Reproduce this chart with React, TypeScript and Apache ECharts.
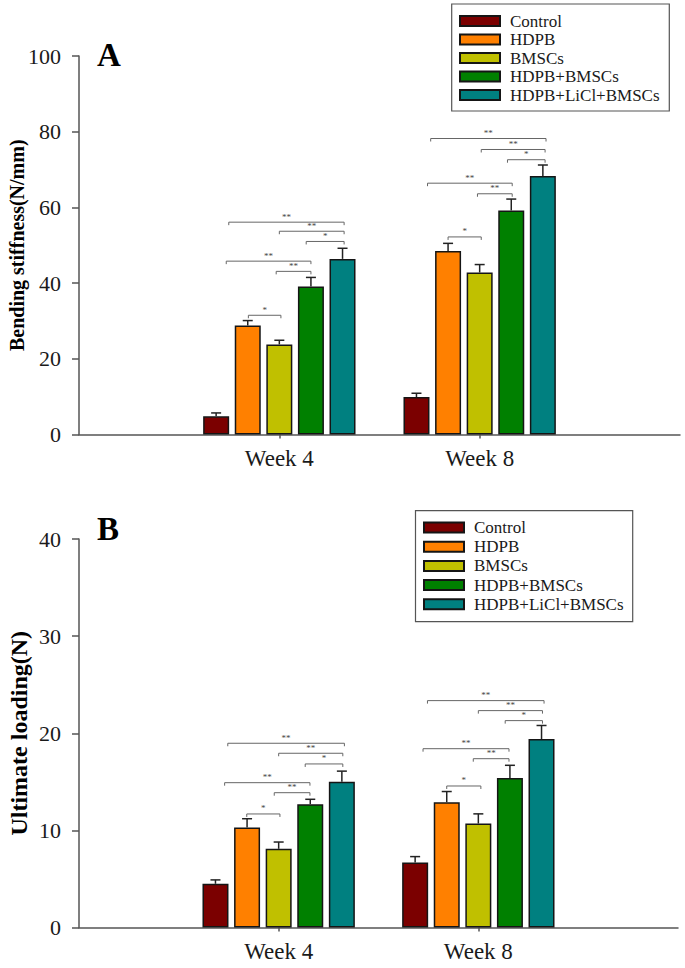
import React, { useEffect, useRef } from 'react';
import * as echarts from 'echarts';

const axisCategories = ['', 'Week 4', 'Week 8', ''];
const weekPositions = [1, 2];
const groupNames = ['Control', 'HDPB', 'BMSCs', 'HDPB+BMSCs', 'HDPB+LiCl+BMSCs'];
const groupColors = ['#7b0000', '#ff8000', '#c0c000', '#008000', '#008080'];

// Panel A: bending stiffness (N/mm), [Week 4, Week 8]
const stiffnessMean = [
  [4.8, 9.9],
  [28.8, 48.5],
  [23.8, 42.8],
  [39.1, 59.2],
  [46.4, 68.3],
];
const stiffnessErr = [
  [0.9, 1.0],
  [1.3, 2.0],
  [1.1, 2.1],
  [2.4, 3.0],
  [2.8, 2.9],
];
// Panel B: ultimate loading (N)
const loadingMean = [
  [4.5, 6.7],
  [10.3, 12.9],
  [8.1, 10.7],
  [12.7, 15.4],
  [15.0, 19.4],
];
const loadingErr = [
  [0.4, 0.6],
  [0.9, 1.1],
  [0.7, 1.0],
  [0.5, 1.3],
  [1.1, 1.4],
];

// significance brackets: [week position, from bar, to bar, height value, stars]
const stiffnessBrackets = [
  [1, 0.4, 4.05, 56.1, 2], [1, 2.0, 4.05, 53.7, 2], [1, 2.85, 4.05, 51.0, 1],
  [1, 0.32, 3.0, 45.8, 2], [1, 1.9, 3.0, 43.1, 2], [1, 1.02, 2.05, 31.5, 1],
  [2, 0.45, 4.1, 78.2, 2], [2, 2.05, 4.07, 75.3, 2], [2, 2.88, 4.07, 72.6, 1],
  [2, 0.35, 3.03, 66.4, 2], [2, 1.93, 3.03, 63.6, 2], [2, 1.0, 2.05, 52.2, 1],
];
const loadingBrackets = [
  [1, 0.39, 4.08, 18.97, 2], [1, 2.0, 4.03, 17.94, 2], [1, 2.84, 4.03, 16.84, 1],
  [1, 0.29, 2.99, 14.91, 2], [1, 1.86, 2.99, 13.88, 2], [1, 0.99, 2.04, 11.69, 1],
  [2, 0.39, 4.08, 23.36, 2], [2, 2.0, 4.03, 22.33, 2], [2, 2.85, 4.03, 21.3, 1],
  [2, 0.25, 2.97, 18.41, 2], [2, 1.84, 2.97, 17.38, 2], [2, 1.0, 2.08, 14.57, 1],
];

const FONT = '"Liberation Serif", "Times New Roman", serif';
const BAR_W = 26;
const PITCH = 31.6;
const AXIS_COLOR = '#555';
const TEXT_COLOR = '#1a1a1a';

function buildPanel(g: number, means: number[][], errs: number[][], brackets: number[][]) {
  const series: any[] = [];
  groupNames.forEach((name, i) => {
    series.push({
      type: 'bar',
      name,
      xAxisIndex: g,
      yAxisIndex: g,
      barWidth: BAR_W,
      barGap: ((PITCH - BAR_W) / BAR_W * 100).toFixed(1) + '%',
      data: weekPositions.map((w, k) => [w, means[i][k]]),
      itemStyle: { color: groupColors[i], borderColor: '#151515', borderWidth: 1.5 },
      z: 2,
    });
  });
  const errData: number[][] = [];
  groupNames.forEach((_, i) => {
    weekPositions.forEach((w, k) => errData.push([w, means[i][k], errs[i][k], i]));
  });
  series.push({
    type: 'custom',
    xAxisIndex: g,
    yAxisIndex: g,
    encode: { x: 0, y: 1 },
    data: errData,
    z: 5,
    silent: true,
    renderItem: (params: any, api: any) => {
      const cat = api.value(0);
      const mean = api.value(1);
      const err = api.value(2);
      const bi = api.value(3);
      const base = api.coord([cat, mean]);
      const top = api.coord([cat, mean + err]);
      const x = base[0] + (bi - 2) * PITCH;
      const st = { stroke: '#222', lineWidth: 1.5 };
      return {
        type: 'group',
        children: [
          { type: 'line', shape: { x1: x, y1: base[1], x2: x, y2: top[1] }, style: st },
          { type: 'line', shape: { x1: x - 5, y1: top[1], x2: x + 5, y2: top[1] }, style: st },
        ],
      };
    },
  });
  series.push({
    type: 'custom',
    xAxisIndex: g,
    yAxisIndex: g,
    encode: { x: 0, y: 3 },
    data: brackets,
    z: 5,
    silent: true,
    renderItem: (params: any, api: any) => {
      const cat = api.value(0);
      const from = api.value(1);
      const to = api.value(2);
      const yv = api.value(3);
      const stars = api.value(4);
      const c = api.coord([cat, yv]);
      const x1 = c[0] + (from - 2) * PITCH;
      const x2 = c[0] + (to - 2) * PITCH;
      const y = c[1];
      return {
        type: 'group',
        children: [
          {
            type: 'polyline',
            shape: { points: [[x1, y + 3], [x1, y], [x2, y], [x2, y + 3]] },
            style: { stroke: '#666', lineWidth: 1, fill: 'none' },
          },
          {
            type: 'text',
            x: (x1 + x2) / 2,
            y: y - 1,
            style: {
              text: '*'.repeat(stars),
              fill: '#444',
              fontSize: 9,
              fontFamily: FONT,
              align: 'center',
              verticalAlign: 'bottom',
            },
          },
        ],
      };
    },
  });
  return series;
}

export default function App() {
  const ref = useRef<HTMLDivElement>(null);
  useEffect(() => {
    if (!ref.current) return;
    const chart = echarts.init(ref.current, null, { renderer: 'svg' });
    const xAxisBase = (gridIndex: number) => ({
      type: 'category',
      gridIndex,
      data: axisCategories,
      boundaryGap: false,
      axisLine: { lineStyle: { color: AXIS_COLOR, width: 1.5 } },
      axisTick: {
        show: true,
        length: 4,
        interval: (idx: number) => idx === 1 || idx === 2,
        lineStyle: { color: AXIS_COLOR, width: 1.5 },
      },
      axisLabel: { interval: 0, fontSize: 23, fontFamily: FONT, color: TEXT_COLOR, margin: 12 },
      splitLine: { show: false },
    });
    const yAxisBase = (gridIndex: number, max: number, interval: number, name: string, nameSize: number, nameGap: number) => ({
      type: 'value',
      gridIndex,
      min: 0,
      max,
      interval,
      name,
      nameLocation: 'middle',
      nameGap,
      nameMoveOverlap: false,
      nameTextStyle: { fontSize: nameSize, fontWeight: 'bold', fontFamily: FONT, color: '#000' },
      axisLine: { show: true, lineStyle: { color: AXIS_COLOR, width: 1.5 } },
      axisTick: { show: true, length: 7, lineStyle: { color: AXIS_COLOR, width: 1.5 } },
      axisLabel: { fontSize: 22, fontFamily: FONT, color: TEXT_COLOR, margin: 18 },
      splitLine: { show: false },
    });
    const legendBase = (left: number, top: number, gap: number) => ({
      data: groupNames,
      orient: 'vertical',
      left,
      top,
      padding: 0,
      itemGap: gap,
      itemWidth: 40,
      itemHeight: 10,
      icon: 'rect',
      selectedMode: false,
      textStyle: { fontSize: 17, fontFamily: FONT, color: TEXT_COLOR, lineHeight: 17, padding: [0, 0, 0, 5] },
    });
    chart.setOption({
      animation: false,
      backgroundColor: '#fff',
      grid: [
        { left: 79, top: 56, width: 601, height: 378.5, outerBoundsMode: 'none', containLabel: false },
        { left: 79, top: 539, width: 599, height: 388.5, outerBoundsMode: 'none', containLabel: false },
      ],
      xAxis: [xAxisBase(0), xAxisBase(1)],
      yAxis: [
        yAxisBase(0, 100, 20, 'Bending stiffness(N/mm)', 20, 52),
        yAxisBase(1, 40, 10, 'Ultimate loading(N)', 24, 48),
      ],
      legend: [legendBase(459, 12.5, 1.5), legendBase(423, 519, 2.2)],
      graphic: [
        { type: 'rect', shape: { x: 451.7, y: 4, width: 217.6, height: 107 }, style: { fill: 'none', stroke: '#555', lineWidth: 1.2 } },
        { type: 'rect', shape: { x: 415.5, y: 510.7, width: 217.2, height: 111 }, style: { fill: 'none', stroke: '#555', lineWidth: 1.2 } },
        { type: 'text', x: 97, y: 55, style: { text: 'A', fontSize: 33, fontWeight: 'bold', fontFamily: FONT, fill: '#000', verticalAlign: 'middle' } },
        { type: 'text', x: 97, y: 529, style: { text: 'B', fontSize: 33, fontWeight: 'bold', fontFamily: FONT, fill: '#000', verticalAlign: 'middle' } },
      ],
      series: [
        ...buildPanel(0, stiffnessMean, stiffnessErr, stiffnessBrackets),
        ...buildPanel(1, loadingMean, loadingErr, loadingBrackets),
      ],
    });
    return () => chart.dispose();
  }, []);
  return <div ref={ref} style={{ position: 'absolute', left: 0, top: 0, width: 685, height: 968 }} />;
}
